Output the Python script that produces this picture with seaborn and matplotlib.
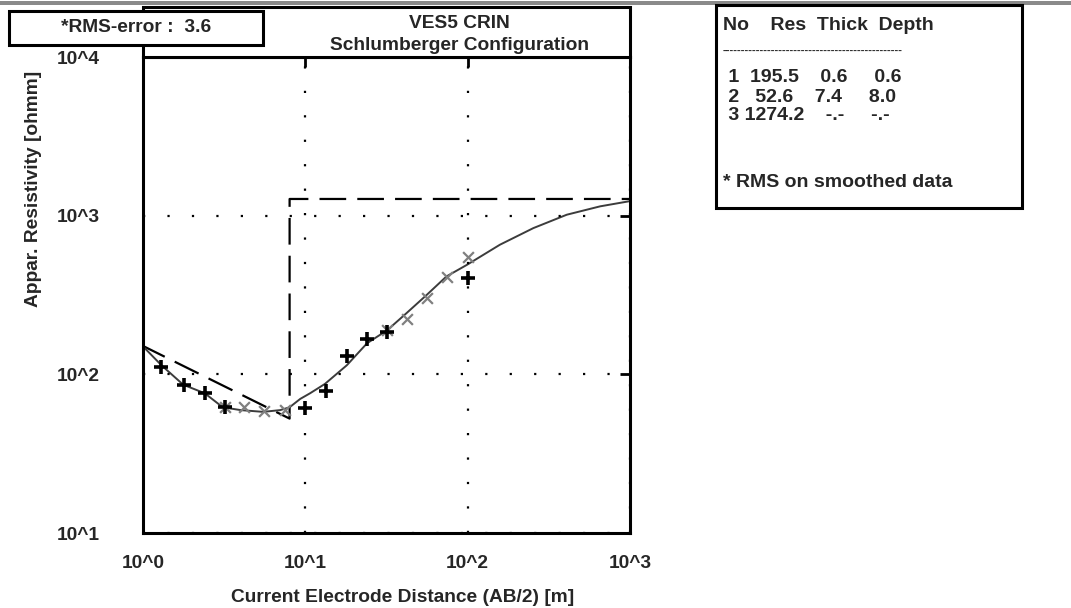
import matplotlib
matplotlib.use("Agg")
import matplotlib.pyplot as plt
from matplotlib.patches import Rectangle
from matplotlib.ticker import FixedLocator, FixedFormatter, LogLocator, NullFormatter
import seaborn as sns

# Field apparent resistivity (AB/2 in m, rho_a in ohm.m)
field_ab2 = [1.3, 1.8, 2.4, 3.2, 10, 13.5, 18, 24, 32, 100]
field_rho = [112, 86, 76, 62, 61, 79, 131, 168, 186, 402]

# Smoothed data
smooth_ab2 = [3.2, 4.2, 5.6, 7.5, 32, 42, 56, 75, 100]
smooth_rho = [62, 62, 59, 59.5, 189, 223, 302, 408, 547]

# Calculated sounding curve of the layered model
curve_ab2 = [1.0, 1.3, 1.77, 2.4, 3.1, 4.0, 5.5, 7.0, 8.0, 9.3, 10.7, 13.2,
             18, 24, 32, 42, 56, 74, 99, 158, 254, 408, 655, 1000]
curve_rho = [150, 114, 86, 76, 62, 59.5, 58, 59.5, 62, 70, 76, 87,
             114, 157, 190, 243, 317, 414, 490, 656, 835, 1014, 1145, 1235]

# Layer model
layer_no = [1, 2, 3]
layer_res = [195.5, 52.6, 1274.2]
layer_thick = [0.6, 7.4, None]
layer_depth = [0.6, 8.0, None]
rms_error = 3.6

x_exponents = [0, 1, 2, 3]
y_exponents = [1, 2, 3, 4]

title_lines = ["VES5 CRIN", "Schlumberger Configuration"]
x_label = "Current Electrode Distance (AB/2) [m]"
y_label = "Appar. Resistivity [ohmm]"
table_header = "No    Res  Thick  Depth"
table_note = "* RMS on smoothed data"

sns.set_style("white")
plt.rcParams["font.family"] = ["Liberation Sans", "DejaVu Sans"]
plt.rcParams["font.weight"] = "bold"

W, H = 1071, 608
fig = plt.figure(figsize=(W / 100, H / 100), dpi=100)


def fx(px):
    return px / W


def fy(py):
    return 1 - py / H


ax_l, ax_r, ax_t, ax_b = 143, 630, 57, 533
ax = fig.add_axes([fx(ax_l), fy(ax_b), fx(ax_r) - fx(ax_l), fy(ax_t) - fy(ax_b)])
ax.set_xscale("log")
ax.set_yscale("log")

xmin, xmax = 10 ** x_exponents[0], 10 ** x_exponents[-1]
ymin, ymax = 10 ** y_exponents[0], 10 ** y_exponents[-1]

# Step model: layer boundaries against resistivity
model_x = [layer_depth[0], layer_depth[1], layer_depth[1], xmax]
model_y = [layer_res[0], layer_res[1], layer_res[2], layer_res[2]]
sns.lineplot(x=model_x, y=model_y, sort=False, estimator=None, ax=ax,
             color="black", linewidth=1.6, linestyle=(0, (12, 5)))

sns.lineplot(x=curve_ab2, y=curve_rho, sort=False, estimator=None, ax=ax,
             color="#3c3c3c", linewidth=1.4)

sns.scatterplot(x=smooth_ab2, y=smooth_rho, marker="x", s=60, ax=ax,
                color="#808080", linewidth=1.6, zorder=4)
sns.scatterplot(x=field_ab2, y=field_rho, marker="+", s=110, ax=ax,
                color="black", linewidth=2.6, zorder=5)

ax.set_xlim(xmin, xmax)
ax.set_ylim(ymin, ymax)

ax.xaxis.set_major_locator(FixedLocator([10 ** e for e in x_exponents]))
ax.xaxis.set_major_formatter(FixedFormatter([f"10^{e}" for e in x_exponents]))
ax.yaxis.set_major_locator(FixedLocator([10 ** e for e in y_exponents]))
ax.yaxis.set_major_formatter(FixedFormatter([f"10^{e}" for e in y_exponents]))
ax.xaxis.set_minor_locator(LogLocator(base=10, subs=range(2, 10)))
ax.yaxis.set_minor_locator(LogLocator(base=10, subs=range(2, 10)))
ax.xaxis.set_minor_formatter(NullFormatter())
ax.yaxis.set_minor_formatter(NullFormatter())

ax.tick_params(which="major", direction="in", length=7, width=2,
               top=True, right=True, labelsize=13.8, color="black")
ax.tick_params(axis="x", which="major", pad=16)
ax.tick_params(axis="y", which="major", pad=31)
ax.tick_params(which="minor", direction="in", length=3.5, width=1.4,
               top=False, right=False, color="black")
for lab in ax.get_xticklabels() + ax.get_yticklabels():
    lab.set_fontweight("bold")

ax.grid(which="major", color="black", linestyle=(0, (1, 10)), linewidth=1.6)
ax.grid(which="minor", visible=False)
ax.set_axisbelow(False)

for sp in ax.spines.values():
    sp.set_visible(True)
    sp.set_linewidth(2.2)
    sp.set_color("black")
ax.set_xlabel("")
ax.set_ylabel("")

# Axis titles
fig.text(fx(403), fy(597), x_label, ha="center", va="center",
         fontsize=13.8, fontweight="bold")
fig.text(fx(34), fy(189), y_label, ha="center", va="center", rotation=90,
         fontsize=13.8, fontweight="bold")

# Thin grey band along the top edge
fig.add_artist(Rectangle((0, fy(5)), 1, fy(1) - fy(5), transform=fig.transFigure,
                         facecolor="#8a8a8a", edgecolor="none", zorder=0))

# Title panel above the plot
fig.add_artist(Rectangle((fx(ax_l), fy(ax_t)), fx(ax_r) - fx(ax_l), fy(7) - fy(ax_t),
                         transform=fig.transFigure, facecolor="white",
                         edgecolor="black", linewidth=2.2, zorder=2))
fig.text(fx(459), fy(23), title_lines[0], ha="center", va="center",
         fontsize=13.8, fontweight="bold", zorder=3)
fig.text(fx(459), fy(45), title_lines[1], ha="center", va="center",
         fontsize=13.8, fontweight="bold", zorder=3)

# RMS error box
fig.add_artist(Rectangle((fx(9), fy(45)), fx(263) - fx(9), fy(11) - fy(45),
                         transform=fig.transFigure, facecolor="white",
                         edgecolor="black", linewidth=2.2, zorder=4))
fig.text(fx(136), fy(28), f"*RMS-error :  {rms_error:.1f}", ha="center", va="center",
         fontsize=13.8, fontweight="bold", zorder=5)

# Layer table
fig.add_artist(Rectangle((fx(716), fy(208)), fx(1022) - fx(716), fy(5) - fy(208),
                         transform=fig.transFigure, facecolor="white",
                         edgecolor="black", linewidth=2.2, zorder=2))
tfs = 14.0
tx = fx(723)
fig.text(tx, fy(25), table_header, ha="left", va="center",
         fontsize=tfs, fontweight="bold", zorder=3)
fig.text(tx, fy(51), "-" * 48, ha="left", va="center",
         fontsize=8, fontweight="bold", zorder=3)


def fmt(v):
    return "-.-" if v is None else f"{v:.1f}"


row_y = [78, 97, 116]
for n, r, t, d, yy in zip(layer_no, layer_res, layer_thick, layer_depth, row_y):
    line = f" {n} " + f"{r:.1f}".rjust(6) + "   " + fmt(t).rjust(4) + "    " + fmt(d).rjust(4)
    fig.text(tx, fy(yy), line, ha="left", va="center",
             fontsize=tfs, fontweight="bold", zorder=3)
fig.text(tx, fy(182), table_note, ha="left", va="center",
         fontsize=tfs, fontweight="bold", zorder=3)

fig.savefig("out.png", dpi=100, facecolor="white")
